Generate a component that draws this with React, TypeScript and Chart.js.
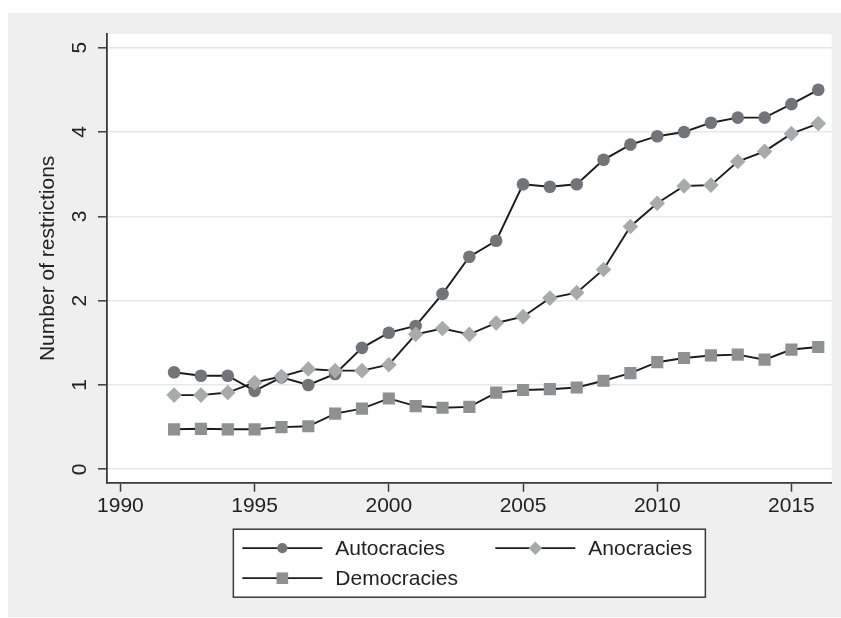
import React, { useEffect, useRef } from 'react';
import { Chart, registerables } from 'chart.js';

Chart.register(...registerables);

const years = [1992, 1993, 1994, 1995, 1996, 1997, 1998, 1999, 2000, 2001, 2002, 2003, 2004, 2005, 2006, 2007, 2008, 2009, 2010, 2011, 2012, 2013, 2014, 2015, 2016];
const autocracies = [1.15, 1.11, 1.11, 0.93, 1.09, 1.0, 1.13, 1.44, 1.62, 1.7, 2.08, 2.52, 2.71, 3.38, 3.35, 3.38, 3.67, 3.85, 3.95, 4.0, 4.11, 4.17, 4.17, 4.33, 4.5];
const anocracies = [0.88, 0.88, 0.91, 1.03, 1.1, 1.19, 1.17, 1.17, 1.24, 1.6, 1.67, 1.6, 1.735, 1.81, 2.03, 2.095, 2.37, 2.88, 3.155, 3.36, 3.37, 3.65, 3.77, 3.98, 4.1];
const democracies = [0.474, 0.48, 0.474, 0.474, 0.5, 0.51, 0.66, 0.72, 0.84, 0.75, 0.73, 0.74, 0.91, 0.94, 0.95, 0.97, 1.05, 1.14, 1.27, 1.32, 1.35, 1.36, 1.3, 1.42, 1.45];
const xTicks = [1990, 1995, 2000, 2005, 2010, 2015];
const yTicks = [0, 1, 2, 3, 4, 5];
const seriesNames = ['Autocracies', 'Anocracies', 'Democracies'];
const yTitle = 'Number of restrictions';

const FONT = '"Liberation Sans", Arial, Helvetica, sans-serif';
const FONT_SIZE = 21;
const TEXT = '#222222';
const LINE = '#1c1c1c';
const AXIS = '#3a3a3a';
const BG = '#eeefee';

const styles = [
  { shape: 'circle', color: '#737479', radius: 6.3, legendRadius: 5.1 },
  { shape: 'rectRot', color: '#a9aaac', radius: 7.8, legendRadius: 6.8 },
  { shape: 'rect', color: '#8f9092', radius: 8.6, legendRadius: 8.2 },
];

function drawMarker(ctx: CanvasRenderingContext2D, shape: string, x: number, y: number, r: number, color: string) {
  ctx.save();
  ctx.fillStyle = color;
  ctx.beginPath();
  if (shape === 'circle') {
    ctx.arc(x, y, r, 0, Math.PI * 2);
  } else if (shape === 'rectRot') {
    ctx.moveTo(x - r, y);
    ctx.lineTo(x, y - r);
    ctx.lineTo(x + r, y);
    ctx.lineTo(x, y + r);
    ctx.closePath();
  } else {
    const s = Math.SQRT1_2 * r;
    ctx.rect(x - s, y - s, 2 * s, 2 * s);
  }
  ctx.fill();
  ctx.restore();
}

const customPlugin = {
  id: 'stataDecor',
  afterDraw(chart: any) {
    const ctx: CanvasRenderingContext2D = chart.ctx;
    const area = chart.chartArea;
    const yScale = chart.scales.y;
    ctx.save();
    // y tick labels (rotated)
    ctx.fillStyle = TEXT;
    ctx.font = `${FONT_SIZE}px ${FONT}`;
    ctx.textAlign = 'center';
    ctx.textBaseline = 'middle';
    yTicks.forEach((v) => {
      const py = yScale.getPixelForValue(v);
      ctx.save();
      ctx.translate(area.left - 27, py);
      ctx.rotate(-Math.PI / 2);
      ctx.fillText(String(v), 0, 0);
      ctx.restore();
    });
    // y title
    ctx.save();
    ctx.translate(area.left - 59, (area.top + area.bottom) / 2);
    ctx.rotate(-Math.PI / 2);
    ctx.fillText(yTitle, 0, 0);
    ctx.restore();

    // legend
    const boxW = 472;
    const boxH = 68;
    const cx = (area.left + area.right) / 2;
    const bx = cx - boxW / 2;
    const by = area.bottom + 46.5;
    ctx.fillStyle = '#ffffff';
    ctx.fillRect(bx, by, boxW, boxH);
    ctx.strokeStyle = AXIS;
    ctx.lineWidth = 1.5;
    ctx.strokeRect(bx, by, boxW, boxH);
    const slots = [
      { dx: 0, dy: 19 },
      { dx: 253, dy: 19 },
      { dx: 0, dy: 49 },
    ];
    seriesNames.forEach((name, i) => {
      const st = styles[i];
      const sl = slots[i];
      const y = by + sl.dy;
      const x0 = bx + 9 + sl.dx;
      ctx.strokeStyle = LINE;
      ctx.lineWidth = 1.8;
      ctx.beginPath();
      ctx.moveTo(x0, y);
      ctx.lineTo(x0 + 80, y);
      ctx.stroke();
      drawMarker(ctx, st.shape, x0 + 40, y, st.legendRadius, st.color);
      ctx.fillStyle = TEXT;
      ctx.font = `${FONT_SIZE}px ${FONT}`;
      ctx.textAlign = 'left';
      ctx.textBaseline = 'middle';
      ctx.fillText(name, x0 + 93, y + 1);
    });
    ctx.restore();
  },
};

export default function App() {
  const ref = useRef<HTMLCanvasElement | null>(null);
  useEffect(() => {
    if (!ref.current) return;
    const mk = (vals: number[]) => vals.map((v, i) => ({ x: years[i], y: v }));
    const all = [autocracies, anocracies, democracies];
    const orders = [2, 1, 3];
    const chart = new Chart(ref.current, {
      type: 'line',
      data: {
        datasets: all.map((vals, i) => ({
          label: seriesNames[i],
          data: mk(vals),
          borderColor: LINE,
          borderWidth: 1.9,
          pointStyle: styles[i].shape as any,
          pointRadius: styles[i].radius,
          pointBackgroundColor: styles[i].color,
          pointBorderWidth: 0,
          pointBorderColor: styles[i].color,
          tension: 0,
          fill: false,
          order: orders[i],
        })),
      },
      options: {
        animation: false,
        responsive: false,
        maintainAspectRatio: false,
        layout: { padding: { left: 0, top: 21, right: 9.3, bottom: 0 } },
        plugins: {
          legend: { display: false },
          tooltip: { enabled: false },
        },
        scales: {
          x: {
            type: 'linear',
            min: 1989.5,
            max: 2016.5,
            afterBuildTicks: (s: any) => {
              s.ticks = xTicks.map((v) => ({ value: v }));
            },
            afterFit: (s: any) => {
              s.height = 134.3;
            },
            grid: {
              drawOnChartArea: false,
              drawTicks: true,
              tickLength: 9,
              tickColor: AXIS,
              tickWidth: 1.5,
            },
            border: { display: true, color: AXIS, width: 1.8 },
            ticks: {
              color: TEXT,
              font: { family: FONT, size: FONT_SIZE },
              padding: 2,
              maxRotation: 0,
              minRotation: 0,
              autoSkip: false,
              callback: (v: any) => String(v),
            },
          },
          y: {
            type: 'linear',
            min: -0.159,
            max: 5.162,
            afterBuildTicks: (s: any) => {
              s.ticks = yTicks.map((v) => ({ value: v }));
            },
            afterFit: (s: any) => {
              s.width = 99;
            },
            grid: {
              drawOnChartArea: true,
              drawTicks: true,
              tickLength: 9,
              color: '#e6e7e6',
              lineWidth: 1.6,
              tickColor: AXIS,
              tickWidth: 1.5,
            },
            border: { display: true, color: AXIS, width: 1.8 },
            ticks: {
              display: false,
            },
          },
        },
      },
      plugins: [
        {
          id: 'whitePlot',
          beforeDraw(chart: any) {
            const a = chart.chartArea;
            const c = chart.ctx;
            c.save();
            c.fillStyle = '#ffffff';
            c.fillRect(a.left, a.top, a.right - a.left, a.bottom - a.top);
            c.restore();
          },
        },
        customPlugin,
      ],
    });
    return () => chart.destroy();
  }, []);
  return (
    <div style={{ position: 'absolute', left: 8, top: 13, width: 833, height: 604, background: BG }}>
      <canvas ref={ref} width={833} height={604} style={{ display: 'block', width: 833, height: 604 }} />
    </div>
  );
}
